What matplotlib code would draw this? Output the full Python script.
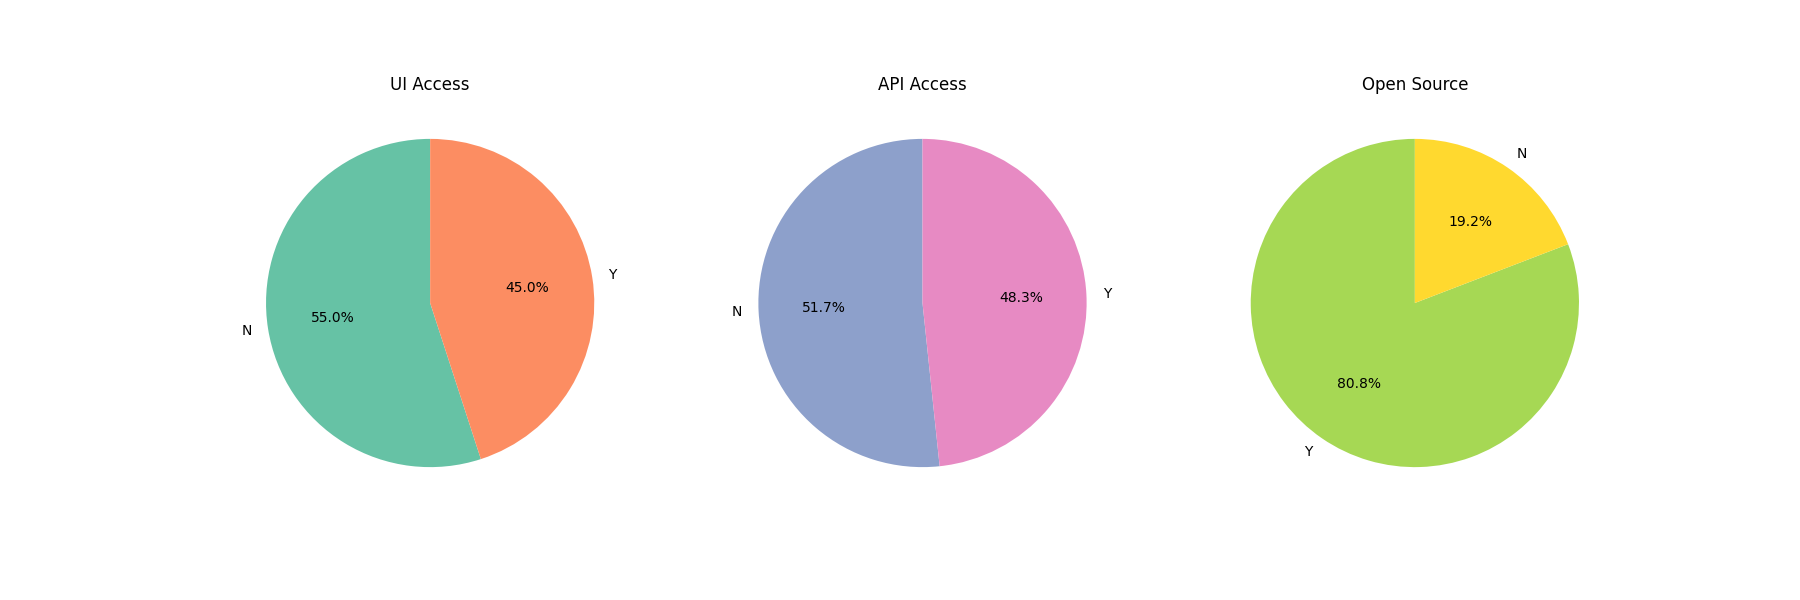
import matplotlib.pyplot as plt
import seaborn as sns

titles = ["UI Access", "API Access", "Open Source"]
labels = [["N", "Y"], ["N", "Y"], ["Y", "N"]]
counts = [[66, 54], [62, 58], [97, 23]]

colors = sns.color_palette("Set2", 6)

fig, axes = plt.subplots(1, 3, figsize=(18, 6))

for i, ax in enumerate(axes):
    ax.pie(counts[i], labels=labels[i], autopct="%1.1f%%", startangle=90,
           colors=colors[2 * i:2 * i + 2])
    ax.set_title(titles[i])

plt.savefig("out.png", dpi=100)
